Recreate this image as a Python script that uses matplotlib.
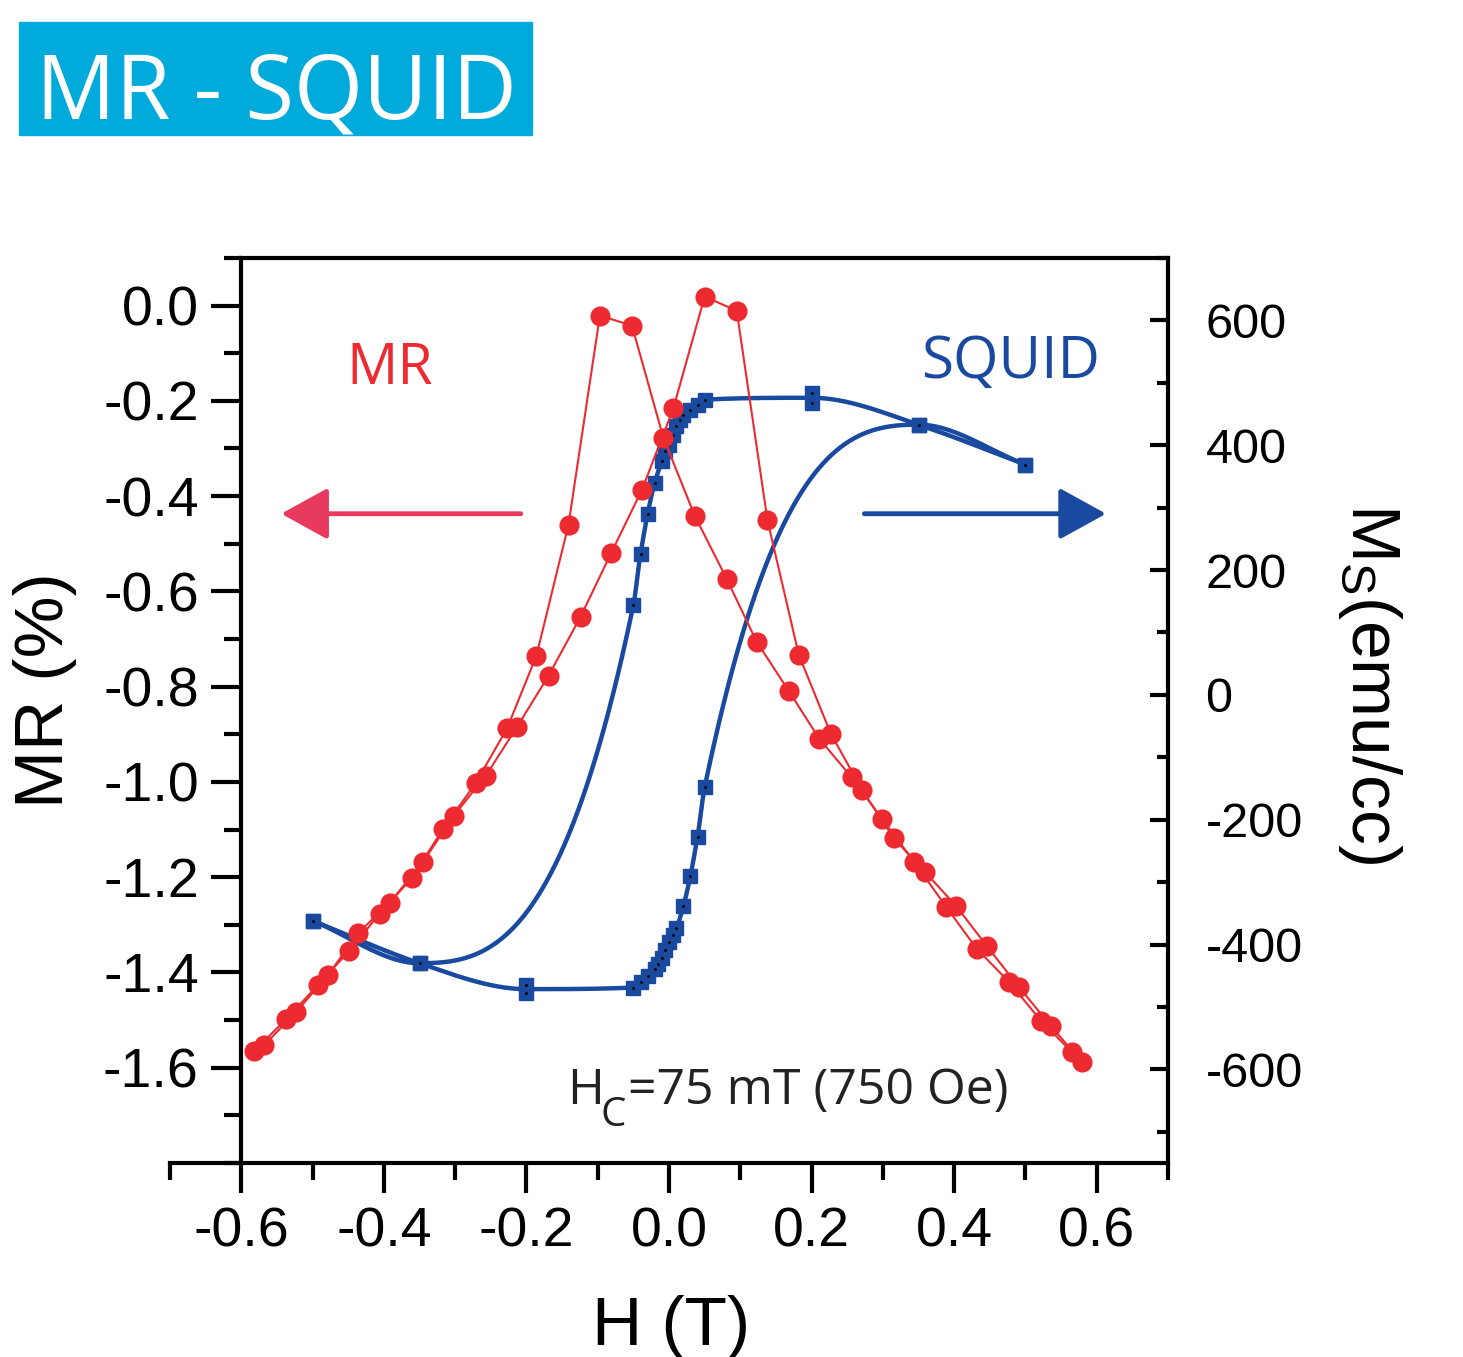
import numpy as np
import matplotlib.pyplot as plt
from matplotlib.ticker import MultipleLocator, FormatStrFormatter
from matplotlib.patches import Rectangle

# MR loop, sweep with peak at negative field and sweep with peak at positive field
mr_down_h = [-0.582, -0.537, -0.492, -0.449, -0.406, -0.361, -0.317, -0.271, -0.227,
             -0.186, -0.141, -0.097, -0.052, -0.008, 0.036, 0.081, 0.123, 0.168,
             0.211, 0.256, 0.299, 0.344, 0.389, 0.432, 0.477, 0.522, 0.565]
mr_down = [-1.565, -1.498, -1.426, -1.355, -1.277, -1.202, -1.099, -1.002, -0.887,
           -0.735, -0.460, -0.021, -0.042, -0.277, -0.441, -0.574, -0.706, -0.809,
           -0.910, -0.990, -1.078, -1.168, -1.263, -1.351, -1.420, -1.502, -1.567]
mr_up_h = [-0.568, -0.523, -0.478, -0.436, -0.392, -0.345, -0.302, -0.257, -0.213,
           -0.169, -0.124, -0.081, -0.038, 0.006, 0.050, 0.095, 0.138, 0.182,
           0.227, 0.271, 0.315, 0.359, 0.403, 0.446, 0.491, 0.536, 0.579]
mr_up = [-1.553, -1.483, -1.405, -1.317, -1.254, -1.168, -1.071, -0.987, -0.884,
         -0.777, -0.653, -0.519, -0.387, -0.216, 0.019, -0.011, -0.450, -0.733,
         -0.899, -1.017, -1.118, -1.189, -1.261, -1.345, -1.431, -1.513, -1.588]

# SQUID loop (emu/cc)
sq_down_h = [0.5, 0.35, 0.2, 0.2, 0.05, 0.04, 0.03, 0.02, 0.015, 0.01, 0.005, 0.0,
             -0.005, -0.01, -0.02, -0.03, -0.04, -0.05, -0.35, -0.5]
sq_down = [369, 433, 484, 468, 473, 465, 457, 448, 440, 430, 416, 401,
           390, 375, 340, 290, 226, 144, -430, -362]
sq_up_h = [-0.5, -0.35, -0.2, -0.2, -0.05, -0.04, -0.03, -0.02, -0.015, -0.01, -0.005, 0.0,
           0.005, 0.01, 0.02, 0.03, 0.04, 0.05, 0.35, 0.5]
sq_up = [-362, -430, -465, -478, -469, -460, -451, -440, -432, -422, -409, -396,
         -385, -374, -339, -290, -227, -148, 433, 369]

mr_ticks = [0.0, -0.2, -0.4, -0.6, -0.8, -1.0, -1.2, -1.4, -1.6]

RED = '#ec2a30'
BLUE = '#1a4aa0'
CYAN = '#00abdc'


def smooth_line(x, y, xs):
    # Akima tangents, limited so the line does not bulge past the points
    n = len(x)
    h = np.diff(x)
    m = np.diff(y) / h
    mm = np.concatenate([[3 * m[0] - 2 * m[1], 2 * m[0] - m[1]], m,
                         [2 * m[-1] - m[-2], 3 * m[-1] - 2 * m[-2]]])
    t = np.zeros(n)
    for i in range(n):
        w1 = abs(mm[i + 3] - mm[i + 2])
        w2 = abs(mm[i + 1] - mm[i])
        if w1 + w2 == 0:
            t[i] = (mm[i + 1] + mm[i + 2]) / 2
        else:
            t[i] = (w1 * mm[i + 1] + w2 * mm[i + 2]) / (w1 + w2)
    t[0], t[-1] = m[0], m[-1]
    for k in range(n - 1):
        d = m[k]
        if d == 0:
            t[k] = t[k + 1] = 0
            continue
        if t[k] / d < 0:
            t[k] = 0
        if t[k + 1] / d < 0:
            t[k + 1] = 0
        a, b = t[k] / d, t[k + 1] / d
        if a * a + b * b > 9:
            tau = 3 / np.sqrt(a * a + b * b)
            t[k], t[k + 1] = tau * a * d, tau * b * d
    i = np.clip(np.searchsorted(x, xs) - 1, 0, n - 2)
    hh = h[i]
    s = (xs - x[i]) / hh
    return ((2*s**3 - 3*s**2 + 1) * y[i] + (s**3 - 2*s**2 + s) * hh * t[i]
            + (-2*s**3 + 3*s**2) * y[i + 1] + (s**3 - s**2) * hh * t[i + 1])


def branch(hs, ms):
    hs = np.array(hs, float)
    ms = np.array(ms, float)
    ux = np.unique(hs)
    uy = np.array([ms[hs == u].mean() for u in ux])
    xs = np.linspace(ux[0], ux[-1], 800)
    return xs, smooth_line(ux, uy, xs)


plt.rcParams['font.family'] = 'Liberation Sans'
plt.rcParams['axes.unicode_minus'] = False
plt.rcParams['mathtext.fontset'] = 'custom'
plt.rcParams['mathtext.rm'] = 'Liberation Sans'

fig = plt.figure(figsize=(14.63, 13.57), dpi=100)
ax = fig.add_axes([0.1162, 0.1430, 0.6822, 0.6669])
ax2 = ax.twinx()
ax.set_zorder(ax2.get_zorder() + 1)
ax.patch.set_visible(False)

# SQUID curves
for hs, ms in [(sq_down_h, sq_down), (sq_up_h, sq_up)]:
    xs, ys = branch(hs, ms)
    ax2.plot(xs, ys, color=BLUE, lw=3.2, solid_capstyle='round')
    ax2.plot(hs, ms, 's', ms=9.5, color=BLUE, mec=BLUE)
    ax2.plot(hs, ms, '.', ms=2.5, color='#111111')

# MR curves
for hs, ms in [(mr_down_h, mr_down), (mr_up_h, mr_up)]:
    ax.plot(hs, ms, '-o', color=RED, lw=1.5, ms=13.5, mec=RED)

ax.set_xlim(-0.7, 0.7)
ax.set_ylim(-1.8, 0.1)
ax2.set_ylim(-750, 700)

ax.set_yticks(mr_ticks)
ax.yaxis.set_minor_locator(MultipleLocator(0.1))
ax.xaxis.set_major_locator(MultipleLocator(0.2))
ax.xaxis.set_minor_locator(MultipleLocator(0.1))
ax.xaxis.set_major_formatter(FormatStrFormatter('%.1f'))
ax.yaxis.set_major_formatter(FormatStrFormatter('%.1f'))
ax2.yaxis.set_major_locator(MultipleLocator(200))
ax2.yaxis.set_minor_locator(MultipleLocator(100))

ax.spines['left'].set_position(('data', -0.6))
ax.spines['top'].set_bounds(-0.6, 0.7)
ax.spines['right'].set_visible(False)
for s in ['left', 'top', 'bottom']:
    ax2.spines[s].set_visible(False)
for s in ax.spines.values():
    s.set_linewidth(3)
ax2.spines['right'].set_linewidth(3)

ax.tick_params(which='major', direction='out', length=21.6, width=3, labelsize=40, pad=9)
ax.tick_params(which='minor', direction='out', length=12, width=3)
ax.tick_params(axis='x', pad=10)
ax2.tick_params(which='major', direction='in', length=13, width=3, labelsize=35, pad=27)
ax2.tick_params(which='minor', direction='in', length=8, width=3)

# annotations
ax.text(-0.453, -0.164, 'MR', color=RED, fontsize=41, fontfamily='Open Sans')
ax.text(0.354, -0.153, 'SQUID', color=BLUE, fontsize=42, fontfamily='Open Sans')
ax.text(-0.143, -1.676, 'H', color='#222222', fontsize=36, fontfamily='Open Sans')
ax.text(-0.0965, -1.723, 'C', color='#222222', fontsize=29, fontfamily='Open Sans')
ax.text(-0.057, -1.676, '=75 mT (750 Oe)', color='#222222', fontsize=36,
        fontfamily='Open Sans')
ax.annotate('', xy=(-0.544, -0.437), xytext=(-0.208, -0.437),
            arrowprops=dict(arrowstyle='-|>,head_length=2.9,head_width=1.6',
                            mutation_scale=10, lw=3.5, color='#e83a5e',
                            shrinkA=0, shrinkB=0))
ax.annotate('', xy=(0.613, -0.437), xytext=(0.274, -0.437),
            arrowprops=dict(arrowstyle='-|>,head_length=2.9,head_width=1.6',
                            mutation_scale=10, lw=3.5, color=BLUE,
                            shrinkA=0, shrinkB=0))

# axis labels
fig.text(45 / 1463, 1 - 690 / 1357, 'MR (%)', rotation=90, ha='center', va='center', fontsize=50)
fig.text(671 / 1463, 12 / 1357, 'H (T)', ha='center', va='baseline', fontsize=50)
fig.text(1370 / 1463, 1 - 683 / 1357, r'M$_\mathrm{S}$(emu/cc)', rotation=270,
         ha='center', va='center', fontsize=50)

# title box
fig.patches.append(Rectangle((19 / 1463, 1 - 135 / 1357), 513 / 1463, 113 / 1357,
                             transform=fig.transFigure, color=CYAN))
fig.text(36 / 1463, 1 - 118 / 1357, 'MR - SQUID', color='white', fontsize=64,
         fontfamily='Open Sans')

fig.savefig('out.png', dpi=100)
